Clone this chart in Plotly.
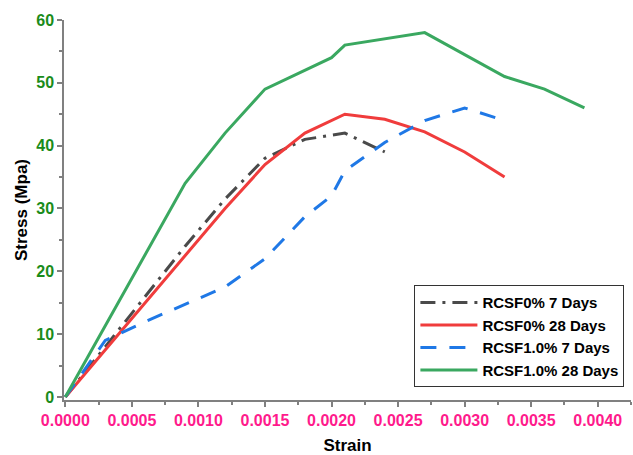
import plotly.graph_objects as go

# Data
strain_a = [0, 0.0003, 0.0006, 0.0009, 0.0012, 0.0015, 0.0018, 0.0021, 0.0024]
stress_rcsf0_7 = [0, 8, 16, 24, 31.5, 38, 41, 42, 39]

strain_b = [0, 0.0012, 0.0015, 0.0018, 0.0021, 0.0024, 0.0027, 0.0030, 0.0033]
stress_rcsf0_28 = [0, 30, 37, 42, 45, 44.2, 42.2, 39, 35]

strain_c = [0, 0.0003, 0.0006, 0.0009, 0.0012, 0.0015, 0.0018, 0.0020, 0.0021, 0.0024, 0.0027, 0.0030, 0.0033]
stress_rcsf1_7 = [0, 9, 12, 14.8, 17.5, 22, 28.7, 32, 36, 40.5, 44, 46, 44]

strain_d = [0, 0.0009, 0.0012, 0.0015, 0.0020, 0.0021, 0.0027, 0.0030, 0.0033, 0.0036, 0.0039]
stress_rcsf1_28 = [0, 34, 42, 49, 54, 56, 58, 54.5, 51, 49, 46]

names = ["RCSF0% 7 Days", "RCSF0% 28 Days", "RCSF1.0% 7 Days", "RCSF1.0% 28 Days"]

x_tickvals = [0, 0.0005, 0.001, 0.0015, 0.002, 0.0025, 0.003, 0.0035, 0.004]
x_ticktext = ["0.0000", "0.0005", "0.0010", "0.0015", "0.0020", "0.0025", "0.0030", "0.0035", "0.0040"]
y_tickvals = [0, 10, 20, 30, 40, 50, 60]

FONT = "Liberation Sans, Arial, sans-serif"

fig = go.Figure()
fig.add_trace(go.Scatter(x=strain_a, y=stress_rcsf0_7, mode="lines", name=names[0],
                         line=dict(color="#4a4a4a", width=3, dash="15px,7px,3px,7px")))
fig.add_trace(go.Scatter(x=strain_b, y=stress_rcsf0_28, mode="lines", name=names[1],
                         line=dict(color="#f03c3c", width=3)))
fig.add_trace(go.Scatter(x=strain_c, y=stress_rcsf1_7, mode="lines", name=names[2],
                         line=dict(color="#1f78e6", width=3, dash="16px,13px")))
fig.add_trace(go.Scatter(x=strain_d, y=stress_rcsf1_28, mode="lines", name=names[3],
                         line=dict(color="#3aa860", width=3)))

fig.update_layout(
    width=633, height=455,
    margin=dict(l=64, r=2, t=20, b=55),
    paper_bgcolor="white", plot_bgcolor="white",
    font=dict(family=FONT, size=16, color="black"),
    showlegend=True,
    legend=dict(
        x=0.618, y=0.302, xanchor="left", yanchor="top",
        xref="paper", yref="paper",
        bordercolor="#333333", borderwidth=1, bgcolor="white",
        font=dict(family=FONT, size=15, color="black", weight="bold"),
        itemwidth=57, tracegroupgap=0,
    ),
    xaxis=dict(
        range=[-0.00001, 0.00425], automargin=False,
        tickvals=x_tickvals, ticktext=x_ticktext,
        ticks="outside", ticklen=5, tickwidth=1.5, tickcolor="#808080",
        showline=True, linecolor="#808080", linewidth=1.5,
        showgrid=False, zeroline=False,
        tickfont=dict(family=FONT, size=16, color="#ff1a8c", weight="bold"),
        minor=dict(ticks="outside", ticklen=3, dtick=0.00025, tick0=0, tickcolor="#808080", tickwidth=1.5),
        title=dict(text="Strain", font=dict(family=FONT, size=17, color="black", weight="bold"), standoff=14),
    ),
    yaxis=dict(
        range=[-0.48, 60], automargin=False,
        tickvals=y_tickvals,
        ticks="outside", ticklen=5, tickwidth=1.5, tickcolor="#808080",
        showline=True, linecolor="#808080", linewidth=1.5,
        showgrid=False, zeroline=False,
        tickfont=dict(family=FONT, size=16, color="#1a8c1a", weight="bold"),
        minor=dict(ticks="outside", ticklen=3, dtick=5, tick0=0, tickcolor="#808080", tickwidth=1.5),
        title=dict(text="Stress (Mpa)", font=dict(family=FONT, size=17, color="black", weight="bold"), standoff=4),
    ),
)

fig.write_html("out.html")
